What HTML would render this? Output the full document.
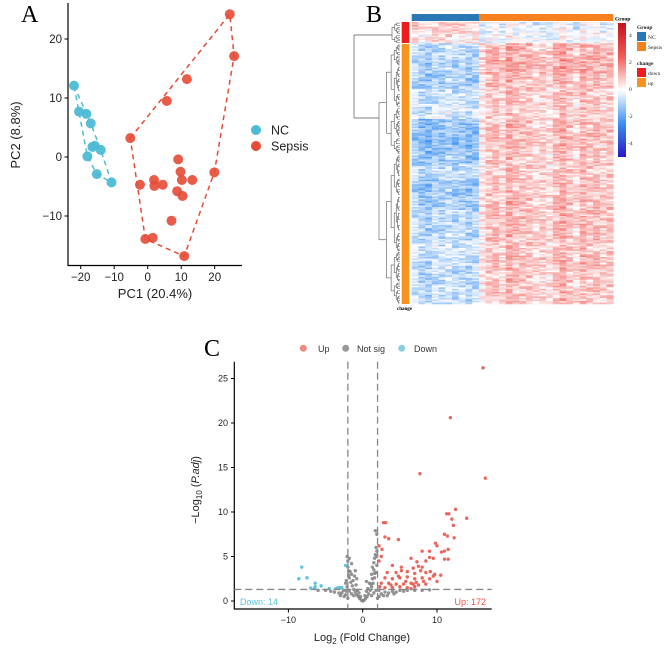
<!DOCTYPE html>
<html><head><meta charset="utf-8"><style>
html,body{margin:0;padding:0;background:#fff;}
svg{display:block;font-family:"Liberation Sans",sans-serif;}
.serif{font-family:"Liberation Serif",serif;}
</style></head><body>
<svg id="fig" width="669" height="651" viewBox="0 0 669 651" xmlns="http://www.w3.org/2000/svg">
  <g id="pA">
    <text x="21" y="22" class="serif" font-size="24">A</text>
    <line x1="68" y1="3" x2="68" y2="266" stroke="#000" stroke-width="1.2"/>
    <line x1="68" y1="265.5" x2="242" y2="265.5" stroke="#000" stroke-width="1.2"/>
    <g id="pAticks"></g>
    <g id="pAhull"></g>
    <g id="pApts"></g>
    <text x="20" y="135" font-size="13" fill="#222" text-anchor="middle" transform="rotate(-90 20 135)">PC2 (8.8%)</text>
    <text x="155" y="298" font-size="13" fill="#222" text-anchor="middle">PC1 (20.4%)</text>
    <g>
      <circle cx="256" cy="130" r="5" fill="#4DBBD5"/>
      <text x="271" y="134.5" font-size="12.5" fill="#222">NC</text>
      <circle cx="256" cy="146" r="5" fill="#E64B35"/>
      <text x="271" y="150.5" font-size="12.5" fill="#222">Sepsis</text>
    </g>
  </g>
  <g id="pB">
    <text x="366" y="22" class="serif" font-size="24">B</text>
    <g id="dendro"></g>
    <g id="heat"></g>
    <rect x="411.7" y="14" width="67.3" height="7" fill="#2a78b5"/>
    <rect x="479" y="14" width="134.3" height="7" fill="#f5821f"/>
    <text x="615" y="20.5" class="serif" font-size="5.5" font-weight="bold">Group</text>
    <rect x="401.7" y="22" width="7.6" height="21" fill="#ee1c1c"/>
    <rect x="401.7" y="44" width="7.6" height="260" fill="#f7931e"/>
    <text x="397" y="310" class="serif" font-size="5" font-weight="bold">change</text>
    <defs>
      <linearGradient id="cb" x1="0" y1="0" x2="0" y2="1">
        <stop offset="0" stop-color="#c5121b"/>
        <stop offset="0.25" stop-color="#f15a55"/>
        <stop offset="0.5" stop-color="#ffffff"/>
        <stop offset="0.75" stop-color="#3a8ff0"/>
        <stop offset="1" stop-color="#2a18c6"/>
      </linearGradient>
    </defs>
    <rect x="618" y="23" width="8" height="134" fill="url(#cb)"/>
    <g class="serif" font-size="5.5" fill="#222">
      <text x="629" y="37">4</text><text x="629" y="64">2</text><text x="629" y="91">0</text><text x="628" y="118">-2</text><text x="628" y="145">-4</text>
    </g>
    <g class="serif" font-size="5.5" fill="#222">
      <text x="637" y="29" font-weight="bold">Group</text>
      <rect x="637" y="32" width="9" height="9" fill="#2a78b5"/><text x="648" y="39">NC</text>
      <rect x="637" y="42" width="9" height="9" fill="#f5821f"/><text x="648" y="49">Sepsis</text>
      <text x="637" y="65" font-weight="bold">change</text>
      <rect x="637" y="68" width="9" height="9" fill="#ee1c1c"/><text x="648" y="75">down</text>
      <rect x="637" y="78" width="9" height="9" fill="#f7931e"/><text x="648" y="85">up</text>
    </g>
  </g>
  <g id="pC">
    <text x="204" y="356" class="serif" font-size="24">C</text>
    <g>
      <circle cx="303.3" cy="348.3" r="3.5" fill="#ee8a7e"/><text x="318" y="352" font-size="9" fill="#333">Up</text>
      <circle cx="345.7" cy="348.3" r="3.5" fill="#999"/><text x="357" y="352" font-size="9" fill="#333">Not sig</text>
      <circle cx="401.7" cy="348.3" r="3.5" fill="#86d0de"/><text x="414" y="352" font-size="9" fill="#333">Down</text>
    </g>
    <line x1="234.3" y1="361.7" x2="234.3" y2="609.5" stroke="#000" stroke-width="1.2"/>
    <line x1="234.3" y1="609" x2="491.7" y2="609" stroke="#000" stroke-width="1.2"/>
    <g id="pCticks"></g>
    <g id="pCpts"></g>
    <g id="pClines"></g>
    <text x="240" y="605" font-size="9" fill="#5bc4da">Down: 14</text>
    <text x="486" y="605" font-size="9" fill="#e8554a" text-anchor="end">Up: 172</text>
    <text transform="translate(199 490) rotate(-90)" font-size="11" fill="#222" text-anchor="middle">−Log<tspan font-size="8" dy="3">10</tspan><tspan dy="-3"> (</tspan><tspan font-style="italic">P.adj</tspan>)</text>
    <text x="362" y="641" font-size="11" fill="#222" text-anchor="middle">Log<tspan font-size="8" dy="3">2</tspan><tspan dy="-3"> (Fold Change)</tspan></text>
  </g>
</svg>
<script>
var NS="http://www.w3.org/2000/svg";
function mk(tag,attrs,parent){var e=document.createElementNS(NS,tag);for(var k in attrs)e.setAttribute(k,attrs[k]);parent.appendChild(e);return e;}

/* ---------- Panel A data ---------- */
var ncPC1=[-22,-20.5,-18.3,-17,-16.5,-15.8,-14,-18,-15.2,-10.8];
var ncPC2=[12.1,7.7,7.3,5.7,1.7,1.9,1.2,0.1,-2.9,-4.3];
var sepPC1=[-5.2,5.7,11.7,24.5,25.8,9.1,9.8,10.2,13.3,19.9,1.9,2,4.5,-2.3,8.8,10.4,7.1,-0.7,1.5,10.9];
var sepPC2=[3.2,9.5,13.2,24.2,17.1,-0.4,-2.5,-3.9,-3.9,-2.6,-3.9,-4.9,-4.7,-4.7,-5.8,-6.6,-10.8,-13.9,-13.7,-16.8];
var pcaXTicks=[-20,-10,0,10,20];
var pcaYTicks=[20,10,0,-10];
function ax(v){return 147.7+v*3.35;}
function ay(v){return 157-v*5.9;}
var gAt=document.getElementById('pAticks');
pcaXTicks.forEach(function(t){
  var l=mk('line',{x1:ax(t),x2:ax(t),y1:265.5,y2:269,stroke:'#000'},gAt);
  
  
  var tx=mk('text',{x:ax(t),y:281,'font-size':11.5,'text-anchor':'middle',fill:'#222'},gAt);
  tx.textContent=(t<0?'−':'')+Math.abs(t);
  
  
});
pcaYTicks.forEach(function(t){
  var l=mk('line',{x1:64.5,x2:68,y1:ay(t),y2:ay(t),stroke:'#000'},gAt);
  
  
  var tx=mk('text',{x:62,y:ay(t)+4,'font-size':11.5,'text-anchor':'end',fill:'#222'},gAt);
  tx.textContent=(t<0?'−':'')+Math.abs(t);
  
  
});
function hull(xs,ys){
  var p=xs.map(function(x,i){return [ax(x),ay(ys[i])];}).sort(function(a,b){return a[0]-b[0]||a[1]-b[1];});
  function cr(o,a,b){return (a[0]-o[0])*(b[1]-o[1])-(a[1]-o[1])*(b[0]-o[0]);}
  var lo=[],up=[];
  p.forEach(function(q){while(lo.length>=2&&cr(lo[lo.length-2],lo[lo.length-1],q)<=0)lo.pop();lo.push(q);});
  p.slice().reverse().forEach(function(q){while(up.length>=2&&cr(up[up.length-2],up[up.length-1],q)<=0)up.pop();up.push(q);});
  lo.pop();up.pop();return lo.concat(up);
}
var gAh=document.getElementById('pAhull');
[[ncPC1,ncPC2,'#4DBBD5','nc-hull'],[sepPC1,sepPC2,'#E64B35','sepsis-hull']].forEach(function(s){
  var h=hull(s[0],s[1]);
  var pg=mk('polygon',{points:h.map(function(q){return q.join(',');}).join(' '),fill:'none',stroke:s[2],'stroke-width':1.5,'stroke-dasharray':'5,4'},gAh);
  
  
});
var gAp=document.getElementById('pApts');
ncPC1.forEach(function(x,i){
  var c=mk('circle',{cx:ax(x),cy:ay(ncPC2[i]),r:5,fill:'#4DBBD5','fill-opacity':0.95},gAp);
  
  
});
sepPC1.forEach(function(x,i){
  var c=mk('circle',{cx:ax(x),cy:ay(sepPC2[i]),r:5,fill:'#E64B35','fill-opacity':0.9},gAp);
  
  
});

/* ---------- Panel B heatmap data ---------- */
var bandRows=[7,7,10,10,10,10,10,10,10,10,10,10,10,10,10,10,10,10,8,4];
var bandNC=[0.6,0.4,-0.6,-0.7,-0.8,-0.5,-0.3,-1.0,-1.1,-0.9,-0.6,-0.9,-0.8,-0.6,-0.6,-0.4,-0.5,-0.6,-0.5,-0.5];
var bandSep=[-0.3,-0.2,0.7,0.8,0.6,0.5,0.4,0.6,0.6,0.5,0.5,0.5,0.6,0.6,0.6,0.5,0.6,0.5,0.5,0.5];
var colMod=[0.1,-0.2,-0.3,0,-0.1,0.1,-0.1,0,-0.2,-0.1,-0.3,0.1,0.2,-0.1,0.4,0.2,0.1,0.1,-0.1,0,-0.2,0.2,0.4,0.1,-0.1,0.3,0.1,0.2,0,0.1];
var rowJit=[0.3,-0.4,0.1,0.5,-0.2,-0.5,0.2,0,-0.3,0.4,-0.1,0.3,-0.6,0.1,0.6,-0.2,0.2];
var nNC=10;
var stops=[[-4.5,[42,24,198]],[-2,[58,143,240]],[0,[255,255,255]],[2,[241,90,85]],[4.5,[197,18,27]]];
function col(v){
  if(v<=stops[0][0])return 'rgb('+stops[0][1]+')';
  for(var i=1;i<stops.length;i++){if(v<=stops[i][0]){var a=stops[i-1],b=stops[i],t=(v-a[0])/(b[0]-a[0]);
    return 'rgb('+a[1].map(function(c,k){return Math.round(c+(b[1][k]-c)*t);}).join(',')+')';}}
  return 'rgb('+stops[stops.length-1][1]+')';
}
var heat=document.getElementById('heat');
var totalRows=bandRows.reduce(function(a,b){return a+b;},0);
var hx0=411.7,hx1=613.3,hy0=22,hy1=304;
var cw=(hx1-hx0)/colMod.length, rh=(hy1-hy0)/totalRows;
var r=0;
bandRows.forEach(function(n,b){
  for(var k=0;k<n;k++,r++){
    for(var c=0;c<colMod.length;c++){
      var base=c<nNC?bandNC[b]:bandSep[b];
      var v=base+colMod[c]+rowJit[(r*7+c*5+((r*c)%3))%rowJit.length];
      var e=mk('rect',{x:(hx0+c*cw).toFixed(2),y:(hy0+r*rh).toFixed(2),width:(cw+0.3).toFixed(2),height:(rh+0.3).toFixed(2),fill:col(v)},heat);
      
      
    }
  }
});
var den=document.getElementById('dendro');
function tree(a,b,x,depth){
  var mid=(a+b)/2;
  if(b-a<3||depth>7){
    mk('line',{x1:x,x2:400,y1:mid,y2:mid,stroke:'#555','stroke-width':0.5},den);return mid;}
  var s=a+(b-a)*(0.35+0.3*((depth*7+Math.round(a))%5)/4);
  var nx=x+(400-x)*0.35;
  var m1=tree(a,s,nx,depth+1),m2=tree(s,b,nx,depth+1);
  mk('line',{x1:x,x2:x,y1:m1,y2:m2,stroke:'#555','stroke-width':0.6},den);
  mk('line',{x1:x,x2:nx,y1:m1,y2:m1,stroke:'#555','stroke-width':0.6},den);
  mk('line',{x1:x,x2:nx,y1:m2,y2:m2,stroke:'#555','stroke-width':0.6},den);
  return (m1+m2)/2;
}
tree(22,44,392,3); tree(44,304,379,1);
mk('line',{x1:354,x2:354,y1:35,y2:118,stroke:'#555','stroke-width':0.7},den);
mk('line',{x1:354,x2:392,y1:35,y2:35,stroke:'#555','stroke-width':0.7},den);
mk('line',{x1:354,x2:379,y1:118,y2:118,stroke:'#555','stroke-width':0.7},den);

/* ---------- Panel C volcano data ---------- */
var upX=[16.2,11.8,7.7,16.5,12.5,11.3,11.6,12,14,12.2,2.8,3.1,12.3,11,11.4,3,3.5,4.8,9.8,10,2.2,2.6,11,11.5,8,9,10.6,2.5,2.2,9,9.5,8.5,11,11.5,6.5,7.3,4,5.2,6.8,7.5,8,3.3,4.5,5.2,6,7,8.5,9.1,9.7,3,4,5,6,7,8,9,10,2.5,3.5,4.5,5.5,6.5,7.5,8.5,2.3,3,4,5,6,7,6.5,7.2,6.8,5.8,4.8,8.2,9.5,10.5,7.8,3.8];
var upY=[26.2,20.6,14.3,13.8,10.3,9.8,9.8,9.2,9.3,8.5,8.8,8.8,7.1,7.5,7.3,7.2,7,6.9,6.5,6.2,6.2,5.8,5.6,5.8,5.6,5.6,5.5,5,4.5,4.9,4.8,4.5,4.7,4.7,4.8,4.4,4,3.8,3.7,3.9,3.8,3.2,3.2,3.4,3.3,3.1,3.2,3.3,3,2.6,2.5,2.6,2.7,2.5,2.6,2.5,2.2,2,2,1.9,1.9,2,1.8,1.9,1.6,1.5,1.5,1.6,1.5,1.6,1.4,2.1,1.9,2.2,2.8,2.2,2.8,2.9,3.4,1.8];
var downX=[-8.2,-8.6,-7.5,-6.4,-6.4,-5.6,-4.5,-3.3,-3.0,-2.3,-6.5,-3.6,-2.8,-7];
var downY=[3.8,2.5,2.6,2.0,1.6,1.7,1.4,1.5,1.5,4.0,1.4,1.4,1.5,1.45];
var nsX=[0,0.2,-0.2,0.4,-0.4,0.6,-0.6,0.8,-0.8,1,-1,1.2,-1.2,1.4,-1.4,1.6,-1.6,1.8,-1.8,1.9,-1.9,1.7,1.8,1.7,1.9,1.5,1.2,0.9,-0.9,-1.1,-1.5,-2,-2,-1.3,0.5,-0.5,1.1,1.3,1.5,1.6,1.9,1.9,0.7,-0.7,-1.7,-1.9,2.5,3,3.5,4,4.5,5,5.5,6,7,8,9,2.2,2.8,3.3,4.2,-2.3,-2.8,-3.2,-3.8,-4.3,-5,-6,-2.5,-3,-2.2,-2.6,1.2,-1.2,1.5,-1.5,2,-2,0.3,-0.3,1.8,-1.8,-0.8,-1,-1.5,-1.8,-2.1,1.3,1.6,0.5,2.2,-2.1,-2.2,-2.3];
var nsY=[0,0.1,0.1,0.3,0.3,0.5,0.5,0.8,0.7,1.2,1,1.6,1.3,2,1.7,2.6,2.1,3.2,2.6,4,3.4,5.2,6,7.9,7.5,4.3,3,2,1.8,2.8,3,3.8,4.5,2.3,1.1,0.9,1.9,2.5,3.5,3.1,5,5.6,1.4,1.2,3.3,2.9,0.8,1,0.9,1.1,1,1.2,1.1,1.2,1.2,1.2,1.25,0.5,0.6,0.6,0.8,0.7,0.9,0.9,1,1.1,1.2,1.2,0.5,0.6,1.1,1.2,0.6,0.6,0.9,0.8,0.3,0.3,0.6,0.5,1.2,1.1,2.5,3.4,4.2,4.8,5,3.8,4.8,2.2,1.2,1.6,2.3,2.0];
var volXTicks=[-10,0,10];
var volYTicks=[0,5,10,15,20,25];
var fcCut=2, padjCut=1.3;
function vx(v){return 362.7+v*7.43;}
function vy(v){return 601-v*8.9;}
var gCt=document.getElementById('pCticks');
volXTicks.forEach(function(t){
  var l=mk('line',{x1:vx(t),x2:vx(t),y1:609,y2:612.5,stroke:'#000'},gCt);
  
  
  var tx=mk('text',{x:vx(t),y:623,'font-size':9,'text-anchor':'middle',fill:'#222'},gCt);
  tx.textContent=(t<0?'−':'')+Math.abs(t);
  
  
});
volYTicks.forEach(function(t){
  var l=mk('line',{x1:231,x2:234.3,y1:vy(t),y2:vy(t),stroke:'#000'},gCt);
  
  
  var tx=mk('text',{x:228,y:vy(t)+3,'font-size':9,'text-anchor':'end',fill:'#222'},gCt);
  tx.textContent=t;
  
  
});
var gCp=document.getElementById('pCpts');
nsX.forEach(function(x,i){
  var c=mk('circle',{cx:vx(x),cy:vy(nsY[i]),r:1.7,fill:'#808080','fill-opacity':0.85},gCp);
  
  
});
downX.forEach(function(x,i){
  var c=mk('circle',{cx:vx(x),cy:vy(downY[i]),r:1.7,fill:'#5bc4da'},gCp);
  
  
});
upX.forEach(function(x,i){
  var c=mk('circle',{cx:vx(x),cy:vy(upY[i]),r:1.7,fill:'#e8554a','fill-opacity':0.9},gCp);
  
  
});
var gCl=document.getElementById('pClines');
[-fcCut,fcCut].forEach(function(f){
  var l=mk('line',{x1:vx(f),x2:vx(f),y1:361.7,y2:609,stroke:'#888','stroke-width':1.3,'stroke-dasharray':'7,4'},gCl);
  
  
});
var hl=mk('line',{x1:234.3,x2:491.7,y1:vy(padjCut),y2:vy(padjCut),stroke:'#888','stroke-width':1.3,'stroke-dasharray':'7,4'},gCl);


</script>
</body></html>
